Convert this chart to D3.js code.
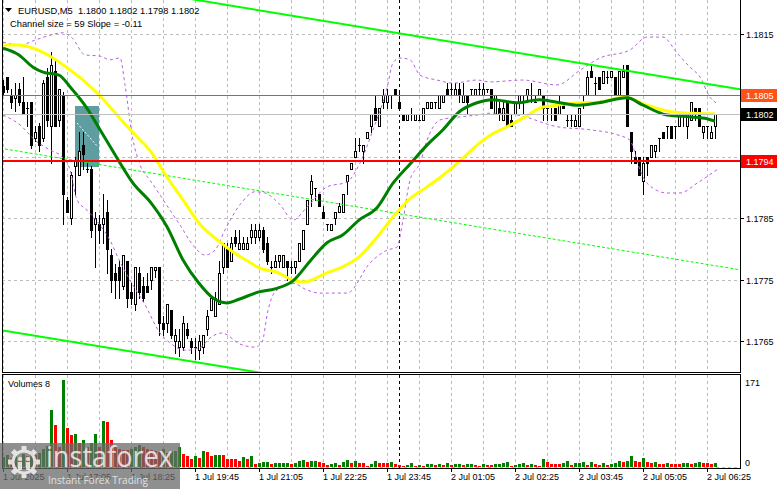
<!DOCTYPE html>
<html><head><meta charset="utf-8">
<script src="https://cdn.jsdelivr.net/npm/d3@7"></script>
<style>
html,body{margin:0;padding:0;background:#fff;}
svg{display:block;font-family:"Liberation Sans",Arial,sans-serif;}
</style></head><body>
<svg id="c" width="781" height="489"></svg>
<script>
// ---------------- DATA ----------------
const symbolTitle = "EURUSD,M5  1.1800 1.1802 1.1798 1.1802";
const channelTitle = "Channel size = 59 Slope = -0.11";
const volumeTitle = "Volumes 8";

const open = [
1.18065,1.1808,1.1805,1.18045,1.1806,1.1804,1.1803,1.1804,1.1798,1.18,
1.1798,1.1808,1.18,1.1809,1.1801,1.1805,1.1788,1.1785,1.17935,1.1792,
1.1797,1.1793,1.1793,1.1784,1.1784,1.1784,1.1786,1.1779,1.1776,1.1777,
1.1774,1.1778,1.1773,1.1771,1.1776,1.1774,1.1774,1.1775,1.17765,1.1777,
1.1768,1.1768,1.177,1.1765,1.1764,1.1764,1.1767,1.1765,1.1764,1.17635,
1.1764,1.1767,1.177,1.1769,1.1771,1.1777,1.178,1.1778,1.1782,1.178,
1.178,1.178,1.1782,1.1782,1.1782,1.1783,1.1781,1.1777,1.1777,1.1778,
1.1777,1.1778,1.1777,1.1777,1.1778,1.178,1.1784,1.1789,1.179,1.1789,
1.1786,1.1784,1.1783,1.1785,1.1786,1.1786,1.1791,1.1793,1.1795,1.1797,
1.1796,1.1798,1.18,1.1803,1.18,1.1804,1.1804,1.1805,1.1806,1.1804,
1.1802,1.1801,1.1802,1.1801,1.1801,1.1801,1.1803,1.1803,1.1804,1.1803,
1.1804,1.1806,1.1806,1.1805,1.1806,1.1804,1.1805,1.1806,1.1805,1.1806,
1.1805,1.1806,1.1806,1.1802,1.1803,1.1801,1.1804,1.1801,1.1802,1.1804,
1.1804,1.1805,1.1805,1.1804,1.1805,1.1805,1.1803,1.1802,1.1803,1.1802,
1.1804,1.1801,1.1801,1.18,1.18,1.1804,1.1805,1.1809,1.1807,1.1808,
1.1807,1.1808,1.1808,1.1808,1.1805,1.1808,1.181,1.1799,1.1795,1.1795,
1.1791,1.1795,1.1795,1.1796,1.1798,1.1799,1.18,1.18,1.18,1.18,
1.1802,1.18,1.1801,1.1803,1.1803,1.1799,1.18,1.1798,1.18];
const high = [
1.18075,1.1808,1.1806,1.1807,1.1807,1.1808,1.1804,1.1804,1.18,1.18005,
1.18075,1.18095,1.1812,1.1811,1.1806,1.18055,1.17885,1.17925,1.1795,1.1799,
1.1799,1.1794,1.17935,1.1786,1.17855,1.1789,1.1788,1.178,1.17775,1.1778,
1.1779,1.1778,1.17745,1.1777,1.1777,1.17755,1.1776,1.1777,1.1777,1.1777,
1.1769,1.1771,1.177,1.1767,1.1767,1.1769,1.1768,1.17655,1.17655,1.1766,
1.1766,1.177,1.1772,1.1773,1.1778,1.1781,1.1781,1.1782,1.1783,1.1783,
1.1782,1.1782,1.1784,1.1784,1.1784,1.17835,1.1782,1.1778,1.1779,1.1779,
1.1779,1.1778,1.1778,1.1778,1.1781,1.1783,1.1788,1.1792,1.179,1.1789,
1.1787,1.1784,1.1784,1.1786,1.17875,1.1789,1.1792,1.1794,1.1798,1.1798,
1.1797,1.1799,1.1802,1.1805,1.1803,1.1806,1.1806,1.1805,1.1806,1.18055,
1.1802,1.1802,1.1803,1.1802,1.1802,1.1803,1.1804,1.1804,1.1804,1.1805,
1.1805,1.1807,1.1807,1.1807,1.1807,1.1807,1.1805,1.1806,1.1806,1.1807,
1.1807,1.1806,1.1806,1.1805,1.1804,1.1804,1.1804,1.1802,1.1804,1.1805,
1.1805,1.1806,1.1807,1.1805,1.1806,1.1805,1.1803,1.1803,1.1803,1.1805,
1.1804,1.1802,1.1802,1.1802,1.1803,1.1805,1.1809,1.181,1.1808,1.1808,
1.1809,1.1809,1.1809,1.1808,1.1809,1.181,1.181,1.1799,1.1796,1.1795,
1.1795,1.1795,1.1797,1.1797,1.1798,1.1799,1.18,1.18,1.18,1.1802,
1.1802,1.1802,1.1804,1.1803,1.1803,1.18,1.18,1.18,1.1802];
const low = [
1.1805,1.18055,1.1803,1.18025,1.18035,1.1802,1.18,1.17965,1.17975,1.1796,
1.17975,1.18,1.1794,1.18,1.18,1.1784,1.1786,1.1784,1.1789,1.1792,
1.1793,1.17925,1.1782,1.1777,1.1781,1.1781,1.1776,1.1773,1.1772,1.1772,
1.17735,1.17705,1.1771,1.177,1.1772,1.17715,1.1773,1.17735,1.17755,1.1766,
1.1766,1.17665,1.17655,1.1763,1.17625,1.17635,1.17655,1.1763,1.1762,1.1762,
1.1763,1.1766,1.177,1.1769,1.1771,1.1776,1.1777,1.1778,1.17805,1.178,
1.178,1.178,1.1781,1.1781,1.17815,1.17795,1.17775,1.1776,1.1777,1.1777,
1.1777,1.1775,1.1776,1.1776,1.1778,1.178,1.1784,1.1787,1.1788,1.1787,
1.1785,1.1783,1.1783,1.1784,1.1786,1.1786,1.1789,1.1793,1.1795,1.1796,
1.1794,1.1798,1.1799,1.1801,1.18,1.1803,1.1803,1.1803,1.1805,1.1803,
1.1801,1.1801,1.1801,1.1801,1.1801,1.1801,1.1803,1.1803,1.1803,1.1803,
1.1804,1.1805,1.1805,1.1805,1.1804,1.1804,1.1802,1.1805,1.1805,1.1805,
1.1805,1.18055,1.1803,1.1802,1.1801,1.1801,1.18,1.18,1.1802,1.1803,
1.1802,1.1804,1.1804,1.1804,1.1805,1.1801,1.1801,1.1801,1.1801,1.1802,
1.1803,1.18,1.18,1.18,1.18,1.1803,1.1805,1.1808,1.1805,1.1806,
1.1807,1.1807,1.1808,1.1805,1.1805,1.1808,1.18,1.1794,1.1794,1.1792,
1.1789,1.1792,1.1795,1.1795,1.1796,1.1798,1.1798,1.1798,1.1798,1.18,
1.18,1.1798,1.1801,1.1801,1.18,1.1798,1.1798,1.1798,1.1798];
const close = [
1.18055,1.1806,1.1804,1.1805,1.1804,1.1802,1.1803,1.1797,1.1799,1.1797,
1.1807,1.1801,1.181,1.18,1.1806,1.1789,1.1786,1.1792,1.17945,1.1796,
1.17955,1.1793,1.1783,1.1785,1.1783,1.1785,1.178,1.1775,1.1775,1.1775,
1.1779,1.1772,1.1772,1.1777,1.1773,1.1772,1.1773,1.1777,1.1777,1.1768,
1.1767,1.1771,1.1766,1.1766,1.1765,1.1768,1.1766,1.1764,1.1764,1.1765,
1.1766,1.1769,1.1772,1.1772,1.1776,1.1781,1.1777,1.1781,1.1781,1.1781,
1.1781,1.1781,1.1783,1.1783,1.1783,1.178,1.1778,1.1777,1.1778,1.1779,
1.1779,1.1777,1.1777,1.1778,1.1781,1.1783,1.1788,1.1791,1.179,1.1787,
1.1785,1.1784,1.1784,1.1786,1.1787,1.1789,1.1792,1.1794,1.1796,1.1797,
1.1797,1.1799,1.1802,1.1801,1.1803,1.1805,1.1805,1.1805,1.1805,1.1803,
1.1801,1.1802,1.1802,1.1802,1.1801,1.1803,1.1804,1.1804,1.1804,1.1805,
1.1805,1.1805,1.1806,1.1806,1.1805,1.1805,1.1804,1.1806,1.1806,1.1806,
1.1806,1.1806,1.1803,1.1805,1.1802,1.1803,1.18,1.18,1.1804,1.1805,
1.1804,1.1806,1.1805,1.1804,1.1806,1.1803,1.1803,1.1802,1.1801,1.1804,
1.1803,1.1801,1.1801,1.1801,1.1803,1.1804,1.1808,1.1808,1.1807,1.1806,
1.1809,1.1808,1.1809,1.1805,1.1809,1.1809,1.18,1.1796,1.1794,1.1792,
1.1794,1.1794,1.1797,1.1797,1.1798,1.1798,1.18,1.1798,1.18,1.1802,
1.1802,1.1802,1.1804,1.1802,1.18,1.18,1.18,1.1799,1.1802];
const volume = [
20,24,18,22,19,26,21,30,24,27,
35,41,112,83,40,171,77,62,64,47,
53,40,47,65,39,90,88,53,43,35,
33,33,36,39,43,40,36,33,31,30,
36,28,31,31,40,26,21,15,22,18,
31,29,22,23,24,23,15,15,15,11,
19,15,22,6,7,9,10,6,8,8,
8,8,6,8,11,13,10,11,11,10,
8,4,6,8,4,9,13,8,11,8,
8,2,6,11,8,8,8,9,6,4,
2,3,8,2,4,2,6,6,4,6,
4,8,4,5,6,4,6,6,4,2,
6,4,4,6,6,8,10,2,4,6,
8,4,6,4,2,15,10,6,6,6,
8,11,4,8,8,10,4,10,6,4,
8,4,6,8,11,10,12,22,12,10,
17,10,8,10,6,6,8,6,6,6,
8,8,6,8,10,8,8,6,8];

// moving averages: [bar index, price]
const maSlow = [[0,1.18132],[4,1.18132],[7.5,1.18127],[12,1.18113],[16,1.18095],[20,1.18075],[24,1.18051],[28.5,1.18018],[32.5,1.17989],[37,1.17958],[41,1.17917],[45,1.1788],[49,1.17842],[53.5,1.17815],[57.5,1.17795],[62,1.17777],[64,1.17769],[68.5,1.17762],[72.5,1.17749],[75,1.17746],[81,1.17761],[85,1.17771],[89,1.17787],[93.5,1.17819],[97.5,1.17852],[102,1.17883],[106,1.17901],[110,1.1792],[114,1.17942],[118.5,1.17969],[122,1.17986],[126,1.17999],[130,1.18013],[135,1.18031],[138.5,1.18034],[144,1.18038],[149,1.18039],[155,1.18047],[156.5,1.18046],[161,1.18034],[167.5,1.18023],[172,1.18021],[176,1.1802],[178,1.1802]];
const maFast = [[0,1.18127],[4,1.18116],[7.5,1.18096],[10,1.18088],[14,1.18083],[17,1.18062],[21,1.18029],[24,1.17997],[28.5,1.17948],[32.5,1.17907],[37,1.17875],[41,1.17836],[45,1.17782],[49,1.17744],[52.5,1.1772],[56,1.17712],[59,1.17718],[64,1.1773],[68,1.17735],[72.5,1.17748],[77,1.17782],[81,1.1781],[85,1.17823],[89,1.17847],[93.5,1.17867],[97.5,1.17907],[102,1.1794],[106,1.17969],[110,1.17994],[114,1.18023],[118.5,1.18038],[122.5,1.18043],[128.5,1.18038],[134,1.18043],[138.5,1.18039],[144,1.18034],[149,1.18038],[156,1.18046],[160,1.18034],[166,1.18018],[172,1.18015],[176,1.18012],[178,1.18008]];
const bandUpper = [[0,1.18137],[4.25,1.18132],[8,1.1814],[11.75,1.18148],[14.75,1.18152],[17.25,1.18144],[20.5,1.18116],[24.25,1.18114],[26.75,1.18108],[29.25,1.18111],[30.5,1.18067],[32.25,1.17986],[34.25,1.17937],[36.75,1.17912],[39.25,1.17888],[41.75,1.17863],[44.25,1.17839],[47.5,1.17806],[50.5,1.1779],[53,1.17798],[55.5,1.17831],[59.25,1.17872],[63,1.17893],[65.5,1.17891],[69.25,1.17872],[72.5,1.17847],[76,1.17868],[81,1.17901],[86,1.17909],[89.25,1.1794],[92.5,1.17994],[96,1.18062],[97.5,1.18103],[99.25,1.18111],[101.75,1.18108],[104.25,1.18083],[108.5,1.18075],[112.5,1.1807],[118.5,1.18075],[121.75,1.18072],[130,1.18075],[138.5,1.18067],[144.25,1.18091],[149.25,1.18111],[156.75,1.18124],[161,1.18145],[165,1.18145],[168.5,1.18119],[171.75,1.18096],[174.25,1.1808],[176.75,1.18047],[178.25,1.18038]];
const bandLower = [[0,1.18018],[4.25,1.18002],[8,1.17977],[11.75,1.17961],[14.75,1.1795],[16.75,1.17929],[18.5,1.1788],[21,1.17863],[24.25,1.17839],[26.75,1.17814],[29.25,1.17779],[32.5,1.17741],[35.5,1.17709],[39.25,1.17663],[41.75,1.17647],[45.5,1.17635],[49.25,1.17639],[51.75,1.17655],[54.75,1.17663],[59.25,1.17645],[63,1.1764],[64.75,1.17648],[66.25,1.177],[68,1.1773],[72.5,1.17744],[76,1.17733],[79.25,1.17728],[86,1.17728],[91.75,1.17777],[96,1.17798],[98.5,1.17803],[100,1.17847],[101.75,1.17912],[104.25,1.1794],[106,1.17977],[109.25,1.1801],[114.25,1.18015],[118.5,1.18018],[121.75,1.18021],[128.5,1.18018],[138.5,1.17999],[146.75,1.17994],[153.5,1.17986],[156.75,1.17977],[159.25,1.17929],[161,1.17907],[166,1.17891],[169.25,1.17891],[173.5,1.17907],[178.5,1.17929]];

// linear regression channel: [bar, price] end points
const channelUpper = [[-0.75,1.18258],[184.25,1.1806]];
const channelMiddle = [[-0.75,1.17964],[184.25,1.17766]];
const channelLower = [[-0.75,1.17668],[184.25,1.1747]];

// objects
const zoneBars = [18, 24];
const zonePrices = [1.18033, 1.17933];
const zoneDiagonal = [[18.5,1.18005],[23.75,1.17966]];
const resistanceLevel = 1.1805;
const supportLevel = 1.17943;
const bidPrice = 1.1802;
const daySeparatorBar = 99;

const priceTicks = [1.1815,1.1805,1.1795,1.1785,1.1775,1.1765];
const volumeTicks = [171, 0];
const timeTickBars = [0,16,32,48,64,80,96,112,128,144,160,176];
const timeLabels = ["1 Jul 2025","1 Jul 17:05","1 Jul 18:25","1 Jul 19:45","1 Jul 21:05","1 Jul 22:25","1 Jul 23:45","2 Jul 01:05","2 Jul 02:25","2 Jul 03:45","2 Jul 05:05","2 Jul 06:25"];
const gridStepBars = 8;

// ---------------- LAYOUT ----------------
const svg = d3.select("#c");
const L = 2, R = 740, mainTop = 0, mainBot = 372, volTop = 374, volBot = 468;
const N = open.length;
const x = d3.scaleLinear().domain([0, N - 1]).range([3, 715]);
const y = d3.scaleLinear().domain([1.1765, 1.1815]).range([341, 34]);
const v = d3.scaleLinear().domain([0, 171]).range([467, 380]);
const px = i => Math.round(x(i));

const defs = svg.append("defs");
defs.append("clipPath").attr("id","mc").append("rect").attr("x",L+1).attr("y",mainTop).attr("width",R-L-1).attr("height",mainBot-mainTop);
defs.append("clipPath").attr("id","vc").append("rect").attr("x",L+1).attr("y",volTop+1).attr("width",R-L-1).attr("height",volBot-volTop-1);

const grid = svg.append("g").attr("shape-rendering","crispEdges").attr("stroke","#bdbdbd").attr("stroke-dasharray","3,3");
for (let b = 0; b <= N - 1; b += gridStepBars) {
  const gx = px(b) + 0.5;
  grid.append("line").attr("x1",gx).attr("x2",gx).attr("y1",mainTop).attr("y2",mainBot);
  grid.append("line").attr("x1",gx).attr("x2",gx).attr("y1",volTop+1).attr("y2",volBot);
}
priceTicks.forEach(p => {
  const gy = Math.round(y(p)) + 0.5;
  grid.append("line").attr("x1",L).attr("x2",R).attr("y1",gy).attr("y2",gy);
});
grid.append("line").attr("x1",L).attr("x2",R).attr("y1",v(0)+0.5).attr("y2",v(0)+0.5);

const main = svg.append("g").attr("clip-path","url(#mc)");

// zone rectangle
main.append("rect").attr("x",px(zoneBars[0])).attr("y",Math.round(y(zonePrices[0])))
  .attr("width",px(zoneBars[1])-px(zoneBars[0])).attr("height",Math.round(y(zonePrices[1]))-Math.round(y(zonePrices[0])))
  .attr("fill","#5f9ea0");
main.append("line").attr("x1",x(zoneDiagonal[0][0])).attr("y1",y(zoneDiagonal[0][1]))
  .attr("x2",x(zoneDiagonal[1][0])).attr("y2",y(zoneDiagonal[1][1]))
  .attr("stroke","#fff").attr("stroke-dasharray","2,2");

// day separator
main.append("line").attr("x1",px(daySeparatorBar)+0.5).attr("x2",px(daySeparatorBar)+0.5).attr("y1",mainTop).attr("y2",mainBot)
  .attr("stroke","#000").attr("stroke-dasharray","3,3").attr("shape-rendering","crispEdges");
svg.append("line").attr("x1",px(daySeparatorBar)+0.5).attr("x2",px(daySeparatorBar)+0.5).attr("y1",volTop+1).attr("y2",volBot)
  .attr("stroke","#000").attr("stroke-dasharray","3,3").attr("shape-rendering","crispEdges");

// candles
const cg = main.append("g").attr("shape-rendering","crispEdges");
d3.range(N).forEach(i => {
  const cx = px(i);
  const yh = Math.round(y(high[i])), yl = Math.round(y(low[i]));
  const yo = Math.round(y(open[i])), yc = Math.round(y(close[i]));
  cg.append("line").attr("x1",cx+0.5).attr("x2",cx+0.5).attr("y1",yh).attr("y2",yl+1).attr("stroke","#000");
  if (yo === yc) {
    cg.append("line").attr("x1",cx-1).attr("x2",cx+2).attr("y1",yo+0.5).attr("y2",yo+0.5).attr("stroke","#000");
  } else if (close[i] > open[i]) {
    cg.append("rect").attr("x",cx-0.5).attr("y",yc+0.5).attr("width",2).attr("height",yo-yc).attr("fill","#fff").attr("stroke","#000");
  } else {
    cg.append("rect").attr("x",cx-1).attr("y",yo).attr("width",3).attr("height",yc-yo+1).attr("fill","#000");
  }
});

// indicators
const line = d3.line().x(d => x(d[0])).y(d => y(d[1]));
const smooth = d3.line().x(d => x(d[0])).y(d => y(d[1])).curve(d3.curveMonotoneX);
main.append("path").attr("d",smooth(bandUpper)).attr("fill","none").attr("stroke","#b760e0").attr("stroke-dasharray","3,3");
main.append("path").attr("d",smooth(bandLower)).attr("fill","none").attr("stroke","#b760e0").attr("stroke-dasharray","3,3");
main.append("path").attr("d",line(channelMiddle)).attr("fill","none").attr("stroke","#00ff00").attr("stroke-dasharray","3,2");
main.append("path").attr("d",line(channelUpper)).attr("fill","none").attr("stroke","#00ff00").attr("stroke-width",2);
main.append("path").attr("d",line(channelLower)).attr("fill","none").attr("stroke","#00ff00").attr("stroke-width",2);
main.append("path").attr("d",smooth(maSlow)).attr("fill","none").attr("stroke","#ffff00").attr("stroke-width",3);
main.append("path").attr("d",smooth(maFast)).attr("fill","none").attr("stroke","#008000").attr("stroke-width",3);

// horizontal levels
const hl = main.append("g").attr("shape-rendering","crispEdges");
hl.append("line").attr("x1",L).attr("x2",R).attr("y1",Math.round(y(bidPrice))+0.5).attr("y2",Math.round(y(bidPrice))+0.5).attr("stroke","#c0c0c0");
hl.append("line").attr("x1",L).attr("x2",R).attr("y1",Math.round(y(resistanceLevel))+0.5).attr("y2",Math.round(y(resistanceLevel))+0.5).attr("stroke","#ff4500");
hl.append("line").attr("x1",L).attr("x2",R).attr("y1",Math.round(y(supportLevel))).attr("y2",Math.round(y(supportLevel))).attr("stroke","#ff0000").attr("stroke-width",2);

// volumes
const vg = svg.append("g").attr("clip-path","url(#vc)").attr("shape-rendering","crispEdges");
let upPrev = true;
d3.range(N).forEach(i => {
  let up = upPrev;
  if (i > 0) { if (volume[i] > volume[i-1]) up = true; else if (volume[i] < volume[i-1]) up = false; }
  upPrev = up;
  const top = Math.round(v(volume[i]));
  vg.append("rect").attr("x",px(i)-1).attr("y",top).attr("width",3).attr("height",Math.round(v(0))-top)
    .attr("fill", up ? "#008000" : "#ff0000");
});

// frames
const fr = svg.append("g").attr("stroke","#000").attr("fill","none").attr("shape-rendering","crispEdges");
fr.append("path").attr("d",`M${L+0.5},${mainTop} V${mainBot+0.5} H${R+0.5} V${mainTop}`);
fr.append("rect").attr("x",L+0.5).attr("y",volTop+0.5).attr("width",R-L).attr("height",volBot-volTop);

// price axis (labels hidden under the price boxes are not drawn, as in the original)
const boxPrices = [resistanceLevel, bidPrice, supportLevel];
const ax = svg.append("g").attr("font-size","9px").attr("fill","#000");
priceTicks.forEach(p => {
  const ty = Math.round(y(p));
  ax.append("line").attr("x1",R).attr("x2",R+4).attr("y1",ty+0.5).attr("y2",ty+0.5).attr("stroke","#000").attr("shape-rendering","crispEdges");
  const hidden = boxPrices.some(bp => Math.abs(y(bp) - ty) < 12);
  if (!hidden) ax.append("text").attr("x",R+6).attr("y",ty+3.5).text(p.toFixed(4));
});
volumeTicks.forEach(t => {
  const ty = t === 0 ? 462 : 382;
  ax.append("text").attr("x",R+5).attr("y",ty+3.5).text(t);
});
// time axis
timeTickBars.forEach((b, k) => {
  const tx = px(b);
  ax.append("line").attr("x1",tx+0.5).attr("x2",tx+0.5).attr("y1",volBot).attr("y2",volBot+4).attr("stroke","#000").attr("shape-rendering","crispEdges");
  ax.append("text").attr("x",tx).attr("y",480).text(timeLabels[k]);
});

// price label boxes
function priceBox(p, fill) {
  const cy = Math.round(y(p));
  svg.append("rect").attr("x",R+1).attr("y",cy-6).attr("width",36).attr("height",13).attr("fill",fill);
  svg.append("text").attr("x",R+6).attr("y",cy+3.5).attr("font-size","9px").attr("fill","#fff").text(p.toFixed(4));
}
priceBox(resistanceLevel, "#ff5219");
priceBox(bidPrice, "#000");
priceBox(supportLevel, "#ff0000");

// titles
svg.append("path").attr("d","M5,8 L12,8 L8.5,12 Z").attr("fill","#000");
svg.append("text").attr("x",18).attr("y",14).attr("font-size","9.3px").attr("xml:space","preserve").style("white-space","pre").text(symbolTitle);
svg.append("text").attr("x",10).attr("y",27).attr("font-size","9.3px").text(channelTitle);
svg.append("text").attr("x",8).attr("y",387).attr("font-size","9px").text(volumeTitle);

// watermark
const wm = svg.append("g");
wm.append("rect").attr("x",0).attr("y",443).attr("width",180).attr("height",46).attr("fill","#6a6a6a").attr("opacity",0.75);
const gear = wm.append("g").attr("transform","translate(24,462)").attr("fill","#f2f2f2").attr("opacity",0.85);
for (let k = 0; k < 8; k++) {
  gear.append("rect").attr("x",-2.5).attr("y",-16).attr("width",5).attr("height",6).attr("transform",`rotate(${k*45})`);
}
gear.append("circle").attr("r",11).attr("fill","none").attr("stroke","#f2f2f2").attr("stroke-width",3);
gear.append("circle").attr("cx",-4).attr("cy",-3).attr("r",2.2);
gear.append("circle").attr("cx",4).attr("cy",-3).attr("r",2.2);
gear.append("rect").attr("x",-6).attr("y",0).attr("width",4).attr("height",8);
gear.append("rect").attr("x",2).attr("y",0).attr("width",4).attr("height",8);
wm.append("text").attr("x",46).attr("y",467).attr("font-family","'Open Sans',sans-serif").attr("font-size","29px")
  .attr("fill","#f0f0f0").attr("opacity",0.85).attr("textLength",127).attr("lengthAdjust","spacingAndGlyphs").text("instaforex");
wm.append("text").attr("x",48).attr("y",484).attr("font-family","'Open Sans',sans-serif").attr("font-size","11px")
  .attr("fill","#f0f0f0").attr("opacity",0.85).attr("textLength",100).attr("lengthAdjust","spacingAndGlyphs").text("Instant Forex Trading");
</script>
</body></html>
